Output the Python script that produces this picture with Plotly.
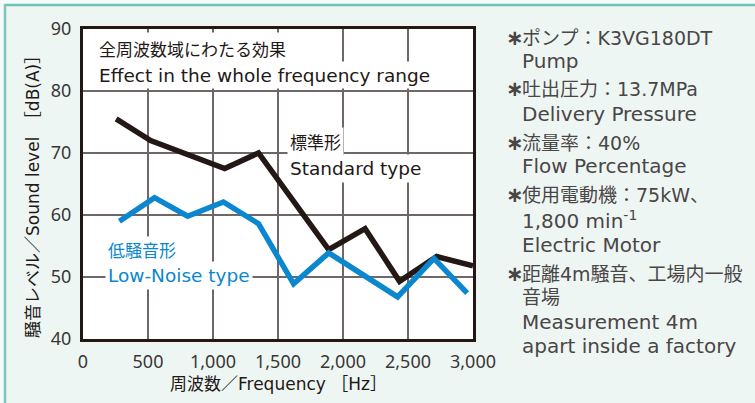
import plotly.graph_objects as go

# Sound level measurements, dB(A), against frequency (Hz)
std_freq = [255, 520, 1090, 1350, 1890, 2170, 2435, 2720, 3000]
std_db = [75.5, 72.0, 67.5, 70.0, 54.4, 57.8, 49.3, 53.3, 51.8]

low_freq = [280, 550, 805, 1080, 1350, 1620, 1890, 2420, 2700, 2955]
low_db = [59.0, 62.8, 59.8, 62.1, 58.6, 48.9, 53.9, 46.8, 53.0, 47.4]

x_ticks = [0, 500, 1000, 1500, 2000, 2500, 3000]
y_ticks = [40, 50, 60, 70, 80, 90]

# (bullet, text, Latin-only line)
notes = [
    (True, "ポンプ：K3VG180DT", False),
    (False, "Pump", True),
    (True, "吐出圧力：13.7MPa", False),
    (False, "Delivery Pressure", True),
    (True, "流量率：40%", False),
    (False, "Flow Percentage", True),
    (True, "使用電動機：75kW、", False),
    (False, "1,800 min<sup>-1</sup>", True),
    (False, "Electric Motor", True),
    (True, "距離4m騒音、工場内一般", False),
    (False, "音場", False),
    (False, "Measurement 4m", True),
    (False, "apart inside a factory", True),
]
note_rows = [38, 61, 89, 114, 143, 166, 195, 220, 245, 274, 297, 322, 346]

W, H = 755, 403
L, R, T, B = 83, 473, 29, 339
JP = "Noto Sans CJK JP, sans-serif"
LAT = "DejaVu Sans, Noto Sans CJK JP, sans-serif"
TICK = "Noto Sans, Noto Sans CJK JP, sans-serif"
DARK = "#231815"
BLUE = "#0a87cf"
NOTE = "#4a4646"


def px(x):
    return (x - L) / (R - L)


def py(y):
    return (B - y) / (B - T)


fig = go.Figure()
fig.add_trace(go.Scatter(x=std_freq, y=std_db, mode="lines",
                         line=dict(color=DARK, width=5.5), hoverinfo="skip"))
fig.add_trace(go.Scatter(x=low_freq, y=low_db, mode="lines",
                         line=dict(color=BLUE, width=5.5), hoverinfo="skip"))

ann = []


def label(x, y, text, color=DARK, size=17, family=JP, bg=None,
          anchor="left", h=None, angle=0):
    d = dict(x=px(x), y=py(y), xref="paper", yref="paper", text=text,
             showarrow=False, xanchor=anchor, yanchor="middle",
             textangle=angle, font=dict(family=family, size=size, color=color))
    if bg:
        d.update(bgcolor=bg, borderpad=2)
    if h:
        d.update(height=h, valign="middle")
    ann.append(d)


# in-plot captions on white boxes that break the grid
label(96, 48, "全周波数域にわたる効果", bg="white", h=26)
label(96, 75, "Effect in the whole frequency range", family=LAT, size=18.5,
      bg="white", h=22)
label(287, 141.5, "標準形", bg="white", h=23)
label(287, 168.5, "Standard type", family=LAT, size=18.5, bg="white", h=23)
label(105, 249.5, "低騒音形", color=BLUE, bg="white", h=21)
label(105, 275, "Low-Noise type", color=BLUE, family=LAT, size=18.5,
      bg="white", h=23)

# axis titles
label(278, 384, "周波数／Frequency\u00a0［Hz］", family=LAT, size=17,
      anchor="center")
label(33, 193, "騒音レベル／Sound level　［dB(A)］", family=LAT, size=17,
      anchor="center", angle=-90)

# specification notes
for (bullet, text, latin), row in zip(notes, note_rows):
    if bullet:
        label(504, row, "<b>∗</b>", color=NOTE, size=21, family=LAT)
    label(520, row, text, color=NOTE, size=20 if latin else 19, family=LAT)

shapes = [
    dict(type="rect", xref="paper", yref="paper", x0=px(0), x1=px(W),
         y0=py(4), y1=py(0), fillcolor="#f6fbfa", line_width=0, layer="below"),
    dict(type="rect", xref="paper", yref="paper", x0=px(0), x1=px(4),
         y0=py(H), y1=py(0), fillcolor="#f6fbfa", line_width=0, layer="below"),
    dict(type="line", xref="paper", yref="paper", x0=px(4), x1=px(W),
         y0=py(5), y1=py(5), line=dict(color="#6fc0b5", width=2.5)),
    dict(type="line", xref="paper", yref="paper", x0=px(5), x1=px(5),
         y0=py(4), y1=py(H), line=dict(color="#7cc6bc", width=2.5)),
]

axis_common = dict(showline=True, mirror=True, linecolor=DARK, linewidth=3,
                   showgrid=True, gridcolor="#6f6767", gridwidth=1.5,
                   zeroline=False, ticks="",
                   tickfont=dict(family=TICK, size=18, color="#3a3634"))

fig.update_layout(
    width=W, height=H,
    margin=dict(l=L, r=W - R, t=T, b=H - B, pad=0),
    paper_bgcolor="#eef6f4", plot_bgcolor="white",
    showlegend=False,
    xaxis=dict(range=[0, 3000], tickvals=x_ticks, tickformat=",d",
               ticklabelstandoff=4, **axis_common),
    yaxis=dict(range=[40, 90], tickvals=y_ticks, ticklabelstandoff=5,
               **axis_common),
    annotations=ann, shapes=shapes,
)

fig.write_html("out.html")
